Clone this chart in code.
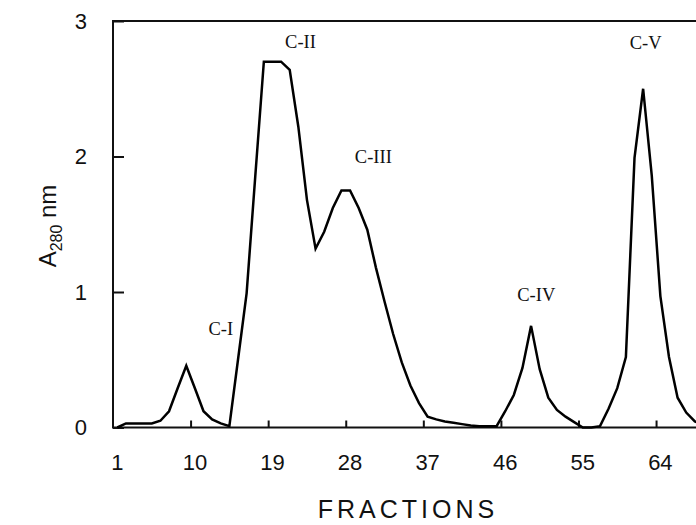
<!DOCTYPE html>
<html>
<head>
<meta charset="utf-8">
<script src="https://cdn.jsdelivr.net/npm/d3@7"></script>
<style>
  body { margin: 0; background: #fff; }
  svg { display: block; }
  .tick-label { font-family: 'Liberation Sans', Arial, sans-serif; font-size: 22px; fill: #111; }
  .peak-label { font-family: 'Liberation Serif', 'Times New Roman', serif; font-size: 18.5px; fill: #111; }
</style>
</head>
<body>
<div id="chart"></div>
<script>
// Absorbance at 280 nm for each collected fraction
var fractions = d3.range(1, 70)
var absorbance = [
  0.0, 0.03, 0.03, 0.03, 0.03, 0.05, 0.12, 0.29, 0.455, 0.29,
  0.12, 0.06, 0.03, 0.01, 0.5, 0.99, 1.85, 2.70, 2.70, 2.70,
  2.64, 2.22, 1.68, 1.32, 1.445, 1.62, 1.75, 1.75, 1.62, 1.46,
  1.18, 0.93, 0.69, 0.48, 0.31, 0.18, 0.08, 0.06, 0.045, 0.035,
  0.025, 0.015, 0.01, 0.01, 0.01, 0.12, 0.24, 0.44, 0.75, 0.43,
  0.22, 0.13, 0.08, 0.04, 0.0, 0.0, 0.01, 0.14, 0.29, 0.52,
  1.99, 2.50, 1.86, 0.97, 0.52, 0.22, 0.11, 0.045, 0.02
]

var xTickLabels = [1, 10, 19, 28, 37, 46, 55, 64]
var yTickLabels = [0, 1, 2, 3]

// peak names, anchored at (fraction, A280)
var peakNames = ['C-I', 'C-II', 'C-III', 'C-IV', 'C-V']
var peakFractions = [13, 22.25, 30.7, 49.6, 62.3]
var peakLevels = [0.68, 2.80, 1.95, 0.93, 2.79]

var svgWidth = 696
var svgHeight = 525

var margin = { top: 21, left: 113 }
var unit = 8.62 // px per fraction

var svg = d3
  .select('#chart')
  .append('svg')
  .attr('width', svgWidth)
  .attr('height', svgHeight)

var xPositionScale = d3
  .scaleLinear()
  .domain([0.5, 72.5])
  .range([margin.left, margin.left + 72 * unit])

var yPositionScale = d3
  .scaleLinear()
  .domain([0, 3])
  .range([427.5, margin.top])

var points = fractions.map((f, i) => ({ fraction: f, value: absorbance[i] }))

/* Frame (right side runs off the picture) */
svg
  .append('rect')
  .attr('x', xPositionScale(0.5))
  .attr('y', yPositionScale(3))
  .attr('width', xPositionScale(72.5) - xPositionScale(0.5))
  .attr('height', yPositionScale(0) - yPositionScale(3))
  .attr('fill', 'none')
  .attr('stroke', '#111')
  .attr('stroke-width', 2)

/* Axes: inward ticks */
var xAxis = d3
  .axisTop(xPositionScale)
  .tickValues(xTickLabels.slice(1).map(d => d - 0.5))
  .tickSize(7)
  .tickFormat('')
svg
  .append('g')
  .attr('class', 'axis x-axis')
  .attr('transform', `translate(0,${yPositionScale(0)})`)
  .call(xAxis)
  .call(g => g.select('.domain').remove())
  .selectAll('line')
  .attr('stroke', '#111')
  .attr('stroke-width', 2)

var yAxis = d3
  .axisRight(yPositionScale)
  .tickValues(yTickLabels)
  .tickSize(11)
  .tickFormat('')
svg
  .append('g')
  .attr('class', 'axis y-axis')
  .attr('transform', `translate(${xPositionScale(0.5)},0)`)
  .call(yAxis)
  .call(g => g.select('.domain').remove())
  .selectAll('line')
  .attr('stroke', '#111')
  .attr('stroke-width', 2)

svg
  .selectAll('.x-label')
  .data(xTickLabels)
  .enter()
  .append('text')
  .attr('class', 'tick-label x-label')
  .attr('x', d => xPositionScale(d))
  .attr('y', 470)
  .attr('text-anchor', 'middle')
  .text(d => d)

svg
  .selectAll('.y-label')
  .data(yTickLabels)
  .enter()
  .append('text')
  .attr('class', 'tick-label y-label')
  .attr('x', 87)
  .attr('y', d => yPositionScale(d))
  .attr('dy', '0.36em')
  .attr('text-anchor', 'end')
  .text(d => d)

/* Axis titles */
svg
  .append('text')
  .attr('x', 408)
  .attr('y', 518)
  .attr('text-anchor', 'middle')
  .attr('font-family', "'Liberation Sans', Arial, sans-serif")
  .attr('font-size', 25)
  .attr('letter-spacing', 4)
  .attr('fill', '#111')
  .text('FRACTIONS')

var yTitle = svg
  .append('text')
  .attr('transform', 'translate(56,226) rotate(-90)')
  .attr('text-anchor', 'middle')
  .attr('font-family', "'Liberation Sans', Arial, sans-serif")
  .attr('font-size', 24)
  .attr('fill', '#111')
yTitle.append('tspan').text('A')
yTitle
  .append('tspan')
  .attr('font-size', 16)
  .attr('dy', 6)
  .text('280')
yTitle
  .append('tspan')
  .attr('dy', -6)
  .text(' nm')

/* The elution curve */
var line = d3
  .line()
  .x(d => xPositionScale(d.fraction))
  .y(d => yPositionScale(d.value))

svg
  .append('path')
  .datum(points)
  .attr('d', line)
  .attr('fill', 'none')
  .attr('stroke', '#000')
  .attr('stroke-width', 2.5)
  .attr('stroke-linejoin', 'miter')

/* Peak labels */
svg
  .selectAll('.peak-label')
  .data(peakNames)
  .enter()
  .append('text')
  .attr('class', 'peak-label')
  .attr('x', (d, i) => xPositionScale(peakFractions[i]))
  .attr('y', (d, i) => yPositionScale(peakLevels[i]))
  .attr('text-anchor', 'middle')
  .text(d => d)
</script>
</body>
</html>
